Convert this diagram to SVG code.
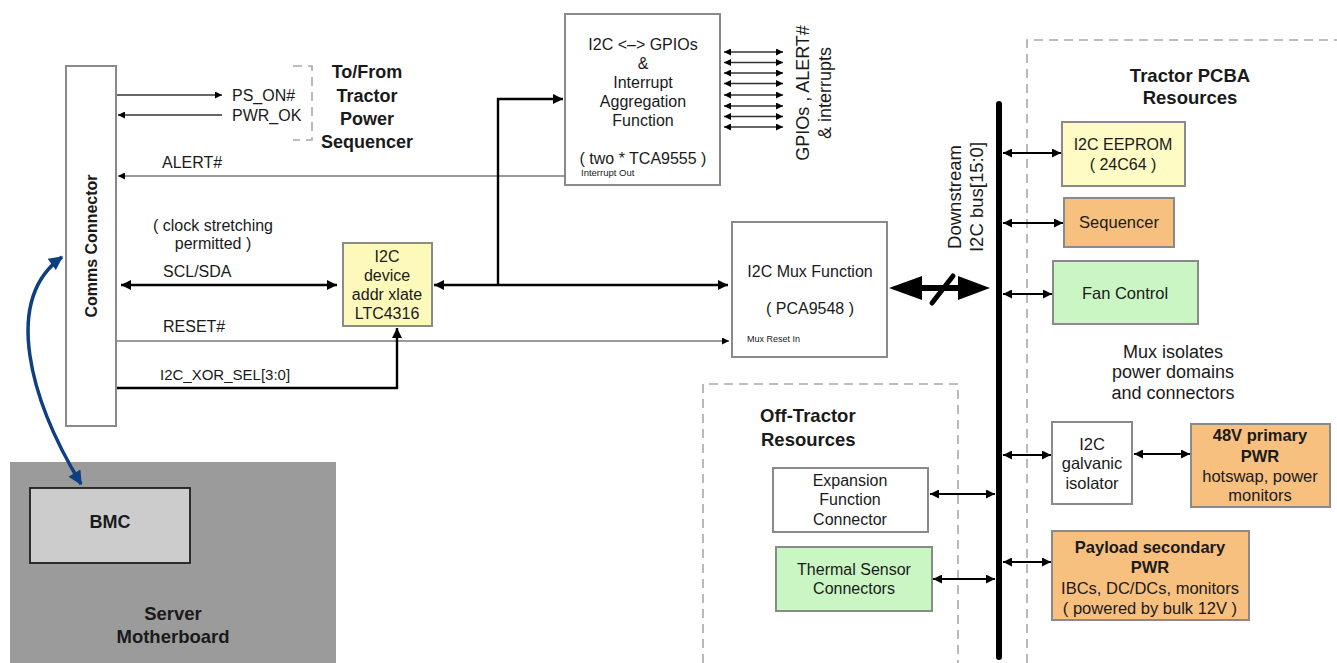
<svg xmlns="http://www.w3.org/2000/svg" width="1337" height="663" viewBox="0 0 1337 663">
  <style>
    text { font-family: "Liberation Sans", Arial, Helvetica, sans-serif; fill: #1a1a1a; }
    .lbl { font-size: 16px; }
    .box-t { font-size: 16px; text-anchor: middle; }
    .bold { font-weight: bold; }
    .small { font-size: 9.5px; }
    .box { stroke: #8a8a8a; stroke-width: 2; }
    .white { fill: #ffffff; }
    .yellow { fill: #fdf9bb; }
    .orange { fill: #f8c07f; }
    .green { fill: #c9f6c2; }
    .dash { fill: none; stroke: #a8a8a8; stroke-width: 1.6; stroke-dasharray: 9 6; }
    .thin { fill: none; stroke: #333; stroke-width: 1.5; }
    .grey { fill: none; stroke: #7a7a7a; stroke-width: 1.6; }
    .thick { fill: none; stroke: #000; stroke-width: 2.4; }
    .link { fill: none; stroke: #000; stroke-width: 2; }
  </style>
  <defs>
    <marker id="ah" viewBox="0 0 10 10" refX="10" refY="5" markerUnits="userSpaceOnUse" markerWidth="14" markerHeight="10" orient="auto-start-reverse">
      <path d="M0,0 L10,5 L0,10 z" fill="#000"/>
    </marker>
    <marker id="ahm" viewBox="0 0 10 10" refX="10" refY="5" markerUnits="userSpaceOnUse" markerWidth="12" markerHeight="9" orient="auto-start-reverse">
      <path d="M0,0 L10,5 L0,10 z" fill="#000"/>
    </marker>
    <marker id="ahs" viewBox="0 0 10 10" refX="10" refY="5" markerUnits="userSpaceOnUse" markerWidth="9" markerHeight="7" orient="auto-start-reverse">
      <path d="M0,0 L10,5 L0,10 z" fill="#000"/>
    </marker>
    <marker id="ahb" viewBox="0 0 10 10" refX="9" refY="5" markerUnits="userSpaceOnUse" markerWidth="18" markerHeight="14" orient="auto-start-reverse">
      <path d="M0,0 L10,5 L0,10 z" fill="#0d3f82"/>
    </marker>
  </defs>

  <!-- region outlines -->
  <g id="tractor-pcba-region">
    <path class="dash" d="M1027,663 V40 H1337"/>
    <text class="box-t bold" x="1190" y="82" style="font-size:18.5px">Tractor PCBA</text>
    <text class="box-t bold" x="1190" y="104" style="font-size:18.5px">Resources</text>
  </g>
  <g id="off-tractor-region">
    <path class="dash" d="M703,663 V384 H958 V663"/>
    <text class="bold" x="760" y="422" style="font-size:18.5px">Off-Tractor</text>
    <text class="bold" x="761" y="446" style="font-size:18.5px">Resources</text>
  </g>
  <g id="power-sequencer-bracket">
    <path class="dash" d="M293,66 H312 V140 H293" stroke-dasharray="18 6"/>
    <text class="box-t bold" x="367" y="78" style="font-size:18px">To/From</text>
    <text class="box-t bold" x="367" y="102" style="font-size:18px">Tractor</text>
    <text class="box-t bold" x="367" y="125" style="font-size:18px">Power</text>
    <text class="box-t bold" x="367" y="148" style="font-size:18px">Sequencer</text>
  </g>

  <!-- nodes -->
  <g id="server-motherboard">
    <rect x="10" y="462" width="326" height="210" fill="#9b9b9b"/>
    <text class="box-t bold" x="173" y="620" style="font-size:18.5px">Server</text>
    <text class="box-t bold" x="173" y="643" style="font-size:18.5px">Motherboard</text>
  </g>
  <g id="bmc">
    <rect x="30" y="488" width="160" height="75" fill="#cccccc" stroke="#1e1e1e" stroke-width="1.8"/>
    <text class="box-t bold" x="110" y="528" style="font-size:18px">BMC</text>
  </g>
  <g id="comms-connector">
    <rect class="box white" x="66" y="66" width="50" height="360"/>
    <text class="box-t bold" transform="translate(97,246) rotate(-90)" style="font-size:16px">Comms Connector</text>
  </g>
  <g id="gpio-expander">
    <rect class="box white" x="565" y="14" width="155" height="171"/>
    <text class="box-t" x="643" y="50">I2C &lt;–&gt; GPIOs</text>
    <text class="box-t" x="643" y="69">&amp;</text>
    <text class="box-t" x="643" y="88">Interrupt</text>
    <text class="box-t" x="643" y="107">Aggregation</text>
    <text class="box-t" x="643" y="126">Function</text>
    <text class="box-t" x="643" y="164">( two * TCA9555 )</text>
    <text class="small" x="581" y="176">Interrupt Out</text>
  </g>
  <g id="addr-xlate">
    <rect class="box yellow" x="343" y="243" width="89" height="83"/>
    <text class="box-t" x="387" y="262">I2C</text>
    <text class="box-t" x="387" y="281">device</text>
    <text class="box-t" x="387" y="300">addr xlate</text>
    <text class="box-t" x="387" y="319">LTC4316</text>
  </g>
  <g id="i2c-mux">
    <rect class="box white" x="732" y="222" width="155" height="135"/>
    <text class="box-t" x="810" y="277">I2C Mux Function</text>
    <text class="box-t" x="810" y="314">( PCA9548 )</text>
    <text class="small" x="747" y="342" style="font-size:9px">Mux Reset In</text>
  </g>
  <g id="eeprom">
    <rect class="box yellow" x="1062" y="122" width="123" height="64" style="fill:#fffbc4"/>
    <text class="box-t" x="1123" y="150">I2C EEPROM</text>
    <text class="box-t" x="1123" y="170">( 24C64 )</text>
  </g>
  <g id="sequencer">
    <rect class="box orange" x="1064" y="198" width="110" height="49"/>
    <text class="box-t" x="1119" y="228" style="font-size:16.5px">Sequencer</text>
  </g>
  <g id="fan-control">
    <rect class="box green" x="1053" y="261" width="145" height="63"/>
    <text class="box-t" x="1125" y="299" style="font-size:16.5px">Fan Control</text>
  </g>
  <g id="mux-note">
    <text class="box-t" x="1173" y="358" style="font-size:18px">Mux isolates</text>
    <text class="box-t" x="1173" y="378" style="font-size:18px">power domains</text>
    <text class="box-t" x="1173" y="399" style="font-size:18px">and connectors</text>
  </g>
  <g id="galvanic-isolator">
    <rect class="box white" x="1052" y="422" width="80" height="82"/>
    <text class="box-t" x="1092" y="450" style="font-size:16.5px">I2C</text>
    <text class="box-t" x="1092" y="469" style="font-size:16.5px">galvanic</text>
    <text class="box-t" x="1092" y="489" style="font-size:16.5px">isolator</text>
  </g>
  <g id="primary-pwr">
    <rect class="box orange" x="1191" y="424" width="139" height="83"/>
    <text class="box-t bold" x="1260" y="441" style="font-size:16.5px">48V primary</text>
    <text class="box-t bold" x="1260" y="462" style="font-size:16.5px">PWR</text>
    <text class="box-t" x="1260" y="482" style="font-size:16.5px">hotswap, power</text>
    <text class="box-t" x="1260" y="501" style="font-size:16.5px">monitors</text>
  </g>
  <g id="secondary-pwr">
    <rect class="box orange" x="1052" y="531" width="197" height="89"/>
    <text class="box-t bold" x="1150" y="553" style="font-size:16.5px">Payload secondary</text>
    <text class="box-t bold" x="1150" y="573" style="font-size:16.5px">PWR</text>
    <text class="box-t" x="1150" y="594" style="font-size:16.5px">IBCs, DC/DCs, monitors</text>
    <text class="box-t" x="1150" y="614" style="font-size:16.5px">( powered by bulk 12V )</text>
  </g>
  <g id="expansion-connector">
    <rect class="box white" x="773" y="468" width="155" height="64"/>
    <text class="box-t" x="850" y="486">Expansion</text>
    <text class="box-t" x="850" y="505">Function</text>
    <text class="box-t" x="850" y="525">Connector</text>
  </g>
  <g id="thermal-connectors">
    <rect class="box green" x="776" y="547" width="156" height="64"/>
    <text class="box-t" x="854" y="575">Thermal Sensor</text>
    <text class="box-t" x="854" y="594">Connectors</text>
  </g>

  <!-- connectors -->
  <g id="connectors">
    <!-- power sequencer handshake -->
    <line class="thin" x1="117" y1="95" x2="222" y2="95" marker-end="url(#ahs)"/>
    <line class="thin" x1="222" y1="115" x2="118" y2="115" marker-end="url(#ahs)"/>
    <text class="lbl" x="232" y="101">PS_ON#</text>
    <text class="lbl" x="232" y="121">PWR_OK</text>

    <!-- alert from gpio expander -->
    <line class="grey" x1="565" y1="176" x2="118" y2="176" marker-end="url(#ahs)"/>
    <text class="lbl" x="162" y="168">ALERT#</text>

    <!-- upstream i2c -->
    <line class="thick" x1="121" y1="285" x2="337" y2="285" marker-start="url(#ah)" marker-end="url(#ah)"/>
    <text class="lbl" x="213" y="231" text-anchor="middle">( clock stretching</text>
    <text class="lbl" x="213" y="249" text-anchor="middle">permitted )</text>
    <text class="lbl" x="163" y="277">SCL/SDA</text>

    <!-- translated i2c to mux and gpio expander -->
    <line class="thick" x1="434" y1="285" x2="728" y2="285" marker-start="url(#ah)" marker-end="url(#ah)"/>
    <polyline class="thick" points="498,285 498,99 563,99" marker-end="url(#ah)"/>

    <!-- reset -->
    <line class="grey" x1="117" y1="341" x2="729" y2="341" marker-end="url(#ahs)"/>
    <text class="lbl" x="163" y="332">RESET#</text>

    <!-- xor select -->
    <polyline class="thick" points="117,388 397,388 397,328" marker-end="url(#ah)"/>
    <text class="lbl" x="160" y="380" style="font-size:15px">I2C_XOR_SEL[3:0]</text>

    <!-- gpio fan-out -->
    <g class="thin">
      <line x1="724" y1="52" x2="783" y2="52" marker-start="url(#ahs)" marker-end="url(#ahs)"/>
      <line x1="724" y1="62.5" x2="783" y2="62.5" marker-start="url(#ahs)" marker-end="url(#ahs)"/>
      <line x1="724" y1="73" x2="783" y2="73" marker-start="url(#ahs)" marker-end="url(#ahs)"/>
      <line x1="724" y1="83.5" x2="783" y2="83.5" marker-start="url(#ahs)" marker-end="url(#ahs)"/>
      <line x1="724" y1="95" x2="783" y2="95" marker-start="url(#ahs)" marker-end="url(#ahs)"/>
      <line x1="724" y1="106" x2="783" y2="106" marker-start="url(#ahs)" marker-end="url(#ahs)"/>
      <line x1="724" y1="116.5" x2="783" y2="116.5" marker-start="url(#ahs)" marker-end="url(#ahs)"/>
      <line x1="724" y1="127" x2="783" y2="127" marker-start="url(#ahs)" marker-end="url(#ahs)"/>
    </g>
    <text class="box-t" transform="translate(809,93) rotate(-90)" style="font-size:18px">GPIOs , ALERT#</text>
    <text class="box-t" transform="translate(831,93) rotate(-90)" style="font-size:18px">&amp; interrupts</text>

    <!-- mux to downstream bus -->
    <polygon points="889,288 922,276 922,285 958,285 958,276 990,288 958,300 958,291 922,291 922,300" fill="#000"/>
    <line x1="932" y1="303" x2="953" y2="276" stroke="#000" stroke-width="5" stroke-linecap="round"/>

    <!-- downstream bus -->
    <line x1="999" y1="104" x2="999" y2="657" stroke="#000" stroke-width="6" stroke-linecap="round"/>
    <text class="box-t" transform="translate(961,197) rotate(-90)" style="font-size:18.5px">Downstream</text>
    <text class="box-t" transform="translate(983,197) rotate(-90)" style="font-size:18.5px">I2C bus[15:0]</text>

    <!-- bus taps -->
    <line class="link" x1="1003" y1="153" x2="1061" y2="153" marker-start="url(#ahm)" marker-end="url(#ahm)"/>
    <line class="link" x1="1003" y1="223" x2="1063" y2="223" marker-start="url(#ahm)" marker-end="url(#ahm)"/>
    <line class="link" x1="1003" y1="294" x2="1052" y2="294" marker-start="url(#ahm)" marker-end="url(#ahm)"/>
    <line class="link" x1="1003" y1="455" x2="1051" y2="455" marker-start="url(#ahm)" marker-end="url(#ahm)"/>
    <line class="link" x1="1134" y1="454" x2="1190" y2="454" marker-start="url(#ahm)" marker-end="url(#ahm)"/>
    <line class="link" x1="1003" y1="562" x2="1051" y2="562" marker-start="url(#ahm)" marker-end="url(#ahm)"/>
    <line class="link" x1="930" y1="494" x2="995" y2="494" marker-start="url(#ahm)" marker-end="url(#ahm)"/>
    <line class="link" x1="933" y1="579" x2="995" y2="579" marker-start="url(#ahm)" marker-end="url(#ahm)"/>

    <!-- bmc to comms connector cable -->
    <path d="M81,484 C30,400 2,300 62,257" fill="none" stroke="#0d3f82" stroke-width="3.5" marker-start="url(#ahb)" marker-end="url(#ahb)"/>
  </g>
</svg>
